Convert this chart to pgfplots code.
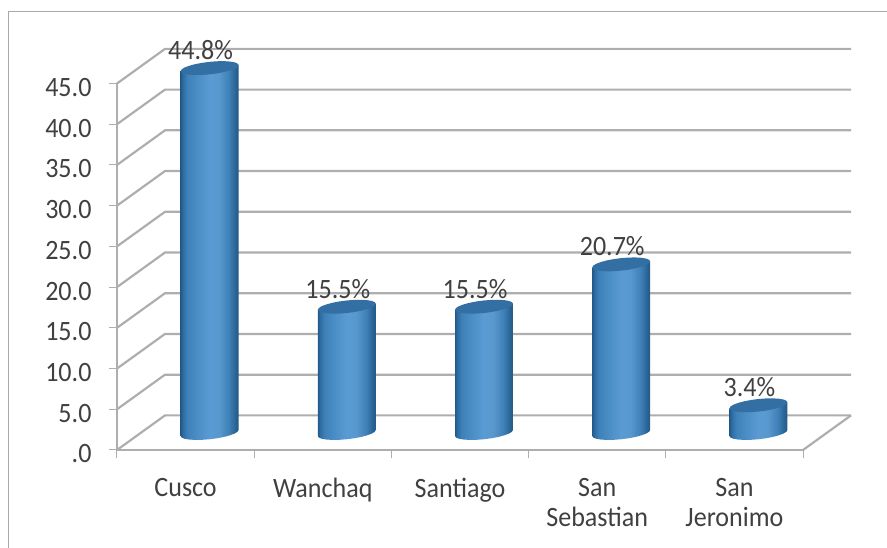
\documentclass[border=0pt]{standalone}
\usepackage{pgfplots}
\usepackage{pgfplotstable}
\usepackage{fontspec}
\setmainfont[FakeStretch=0.93]{Carlito}
\pgfplotsset{compat=1.18}
\definecolor{gridg}{HTML}{AEAEAE}
\definecolor{framg}{HTML}{A8A8A8}
\definecolor{txt}{HTML}{404040}
\definecolor{capc}{HTML}{336FA3}
\definecolor{cA}{HTML}{225A8A}
\definecolor{cB}{HTML}{2F6DA3}
\definecolor{cC}{HTML}{3F82BA}
\definecolor{cD}{HTML}{5A9BD3}
\definecolor{cE}{HTML}{5898CF}
\definecolor{cF}{HTML}{3E7FB6}
\definecolor{cG}{HTML}{27608F}
\pgfdeclarehorizontalshading{cyl}{100bp}{
 color(0bp)=(cA); color(25bp)=(cA); color(27bp)=(cB);
 color(31bp)=(cC); color(50bp)=(cD); color(58bp)=(cE);
 color(67bp)=(cF); color(73bp)=(cG); color(75bp)=(cA); color(100bp)=(cA)}
\pgfplotstableread{
dx dy top
-.211 -.370 0
-.204 -.557 0
-.183 -.705 0
-.149 -.806 0
-.106 -.852 0
-.055 -.840 0
0 -.770 0
.055 -.648 0
.106 -.482 0
.149 -.282 0
.183 -.065 0
.204 .158 0
.211 .370 0
.211 .370 1
-.211 -.370 1
}\bodyshape
\pgfplotstableread{
dx dy
.211 .370
.204 .557
.183 .705
.149 .806
.106 .852
.055 .840
0 .770
-.055 .648
-.106 .482
-.149 .282
-.183 .065
-.204 -.158
-.211 -.370
-.204 -.557
-.183 -.705
-.149 -.806
-.106 -.852
-.055 -.840
0 -.770
.055 -.648
.106 -.482
.149 -.282
.183 -.065
.204 .158
}\capshape
\newcommand\cyl[2]{%
 \addplot[draw=none, shade, shading=cyl] table[x expr=\thisrow{dx}+#1, y expr=\thisrow{dy}+2.09+\thisrow{top}*#2]{\bodyshape} -- cycle;
 \addplot[draw=none, fill=capc] table[x expr=\thisrow{dx}+#1, y expr=\thisrow{dy}+2.09+#2]{\capshape} -- cycle;
}
\newcommand\wall[2]{\addplot[gridg, line width=2.2pt] coordinates {(0,#1) (0.35,#2) (5.35,#2)};}
\begin{document}
\begin{tikzpicture}[x=1pt,y=1pt]
\useasboundingbox (0,0) rectangle (887,548);
\draw[framg, line width=1pt] (8.5,0) -- (8.5,536.5) -- (887,536.5);
\begin{axis}[
 at={(117pt,98pt)}, anchor=south west, scale only axis, width=686pt, height=366.5pt,
 xmin=0, xmax=5, ymin=0, ymax=45, clip=false,
 axis y line*=left, axis x line*=bottom,
 axis line style={gridg, line width=2.2pt, -},
 every tick/.style={gridg, line width=1pt},
 major tick length=8pt,
 tick align=outside,
 ytick={0,5,...,45},
 yticklabels={.0,5.0,10.0,15.0,20.0,25.0,30.0,35.0,40.0,45.0},
 xtick={0,1,2,3,4,5}, xticklabels={},
 extra x ticks={0.5,1.5,2.5,3.5,4.5},
 extra x tick labels={Cusco,Wanchaq,Santiago,{San\\Sebastian},{San\\Jeronimo}},
 extra x tick style={major tick length=0pt, tick style={draw=none}},
 xticklabel style={align=center, anchor=north, yshift=-25pt, font=\fontsize{28}{30}\selectfont, text=txt},
 yticklabel style={font=\fontsize{28}{28}\selectfont, text=txt, xshift=-14pt, yshift=-4pt},
 nodes near coords style={font=\fontsize{28}{28}\selectfont, text=txt},
]
\wall{0}{4.25}\wall{5}{9.25}\wall{10}{14.25}\wall{15}{19.25}\wall{20}{24.25}\wall{25}{29.25}\wall{30}{34.25}\wall{35}{39.25}\wall{40}{44.25}\wall{45}{49.25}
\addplot[gridg, line width=2.2pt] coordinates {(5,0) (5.35,4.25)};
\cyl{0.675}{44.8}
\cyl{1.675}{15.5}
\cyl{2.675}{15.5}
\cyl{3.675}{20.7}
\cyl{4.675}{3.4}
\addplot[draw=none, mark=none, nodes near coords={\pgfmathprintnumber[fixed,fixed zerofill,precision=1,assume math mode=true]{\pgfplotspointmeta}\%},
  every node near coord/.append style={anchor=center, xshift=15pt, yshift=35pt}]
 coordinates {(0.5,44.8) (1.5,15.5) (2.5,15.5) (3.5,20.7) (4.5,3.4)};
\end{axis}
\end{tikzpicture}
\end{document}
